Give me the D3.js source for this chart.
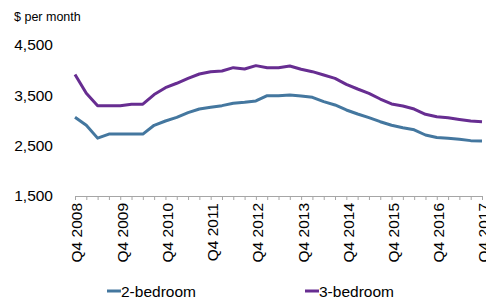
<!DOCTYPE html>
<html>
<head>
<meta charset="utf-8">
<script src="https://cdn.jsdelivr.net/npm/d3@7/dist/d3.min.js"></script>
<style>
html,body{margin:0;padding:0;background:#fff;}
text{font-family:"Liberation Sans",Arial,sans-serif;fill:#000;}
</style>
</head>
<body>
<svg id="chart" width="486" height="300"></svg>
<script>
const quarters = ["Q4 2008","Q1 2009","Q2 2009","Q3 2009","Q4 2009","Q1 2010","Q2 2010","Q3 2010","Q4 2010","Q1 2011","Q2 2011","Q3 2011","Q4 2011","Q1 2012","Q2 2012","Q3 2012","Q4 2012","Q1 2013","Q2 2013","Q3 2013","Q4 2013","Q1 2014","Q2 2014","Q3 2014","Q4 2014","Q1 2015","Q2 2015","Q3 2015","Q4 2015","Q1 2016","Q2 2016","Q3 2016","Q4 2016","Q1 2017","Q2 2017","Q3 2017","Q4 2017"];
const tickLabels = ["Q4 2008","Q4 2009","Q4 2010","Q4 2011","Q4 2012","Q4 2013","Q4 2014","Q4 2015","Q4 2016","Q4 2017"];
const twoBedroom = [3065,2905,2650,2730,2730,2730,2730,2905,2990,3063,3156,3228,3262,3295,3342,3362,3388,3494,3494,3507,3487,3460,3374,3308,3209,3129,3056,2976,2905,2857,2815,2712,2662,2645,2628,2600,2593];
const threeBedroom = [3915,3540,3292,3292,3292,3322,3325,3515,3652,3740,3838,3924,3970,3983,4050,4023,4090,4050,4050,4083,4017,3970,3904,3838,3719,3626,3540,3427,3328,3288,3228,3123,3075,3056,3022,2990,2976];
const yTicks = [1500,2500,3500,4500];
const seriesNames = ["2-bedroom","3-bedroom"];
const colors = ["#44779f","#672d91"];

const svg = d3.select("#chart");
const x = d3.scalePoint().domain(quarters).range([75, 482]);
const y = d3.scaleLinear().domain([1500, 4500]).range([196, 45]);

// unit label
svg.append("text").attr("x", 14).attr("y", 21).attr("font-size", 12.5).text("$ per month");

// y tick labels
svg.selectAll(".ylab").data(yTicks).enter().append("text")
  .attr("x", 53).attr("y", d => y(d)).attr("dy", "0.35em")
  .attr("text-anchor", "end").attr("font-size", 15.5)
  .text(d => d3.format(",")(d));

// x axis
const xAxis = d3.axisBottom(x).tickValues(quarters).tickSize(4).tickFormat("");
const gx = svg.append("g").attr("transform", "translate(0,196)").call(xAxis);
gx.select(".domain").attr("stroke", "#a6a6a6").attr("d", "M75,0.5H482");
gx.selectAll(".tick line").attr("stroke", "#a6a6a6");

// x labels
svg.selectAll(".xlab").data(tickLabels).enter().append("text")
  .attr("transform", d => `translate(${x(d) + 2},203) rotate(-90)`)
  .attr("dy", "0.35em").attr("text-anchor", "end").attr("font-size", 15.5)
  .text(d => d);

// lines
const line = d3.line().x((d, i) => x(quarters[i])).y(d => y(d));
[twoBedroom, threeBedroom].forEach((s, k) => {
  svg.append("path").datum(s).attr("d", line)
    .attr("fill", "none").attr("stroke", colors[k]).attr("stroke-width", 3)
    .attr("stroke-linejoin", "round");
});

// legend
const legendX = [107, 305];
seriesNames.forEach((n, k) => {
  svg.append("line").attr("x1", legendX[k]).attr("x2", legendX[k] + 14)
    .attr("y1", 291).attr("y2", 291).attr("stroke", colors[k]).attr("stroke-width", 3);
  svg.append("text").attr("x", legendX[k] + 14).attr("y", 297)
    .attr("font-size", 15.5).text(n);
});
</script>
</body>
</html>
